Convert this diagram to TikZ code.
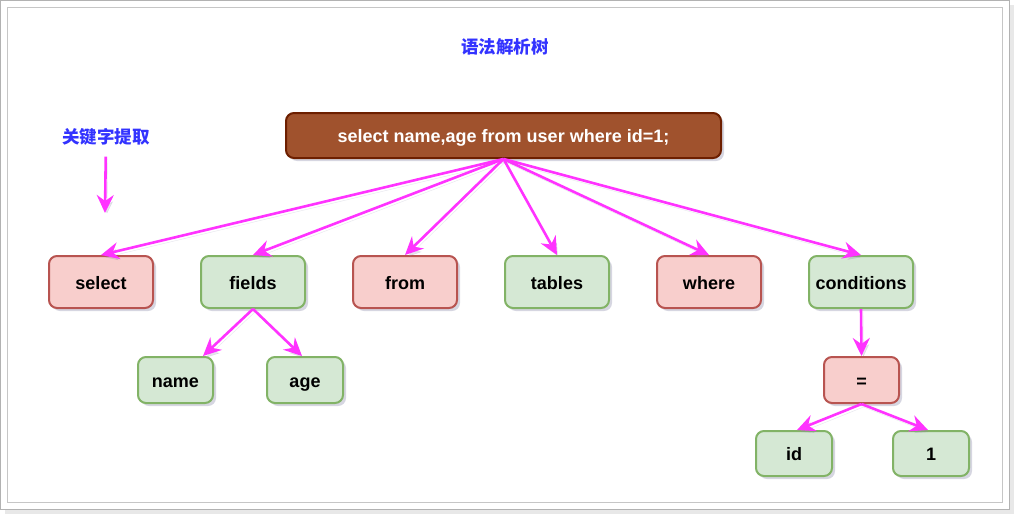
\documentclass[tikz,border=0pt]{standalone}
\usepackage{fontspec}
\setmainfont{Liberation Sans}
\newfontfamily\cjk{Noto Sans CJK SC}
\usetikzlibrary{arrows.meta,shadows,calc}
\definecolor{redfill}{HTML}{F8CECC}
\definecolor{redline}{HTML}{B85450}
\definecolor{greenfill}{HTML}{D5E8D4}
\definecolor{greenline}{HTML}{82B366}
\definecolor{mag}{HTML}{FF33FF}
\definecolor{titleblue}{HTML}{3333FF}
\definecolor{rootfill}{HTML}{A0522D}
\definecolor{rootline}{HTML}{6D1F00}
\definecolor{shadowc}{HTML}{8C8CAA}
\begin{document}
\begin{tikzpicture}[x=1pt,y=-1pt,
  box/.style={rectangle, rounded corners=8pt, line width=2pt, font=\fontsize{18}{21}\selectfont\bfseries,
    text height=14pt, text depth=0pt,
    drop shadow={shadow xshift=3pt, shadow yshift=-3pt, opacity=0.35, fill=shadowc}},
  redbox/.style={box, fill=redfill, draw=redline},
  greenbox/.style={box, fill=greenfill, draw=greenline},
  big/.style={minimum width=104pt, minimum height=52pt},
  small/.style={minimum width=76pt, minimum height=46pt},
  rootbox/.style={box, fill=rootfill, draw=rootline, text=white, minimum width=435pt, minimum height=45pt},
  arrow/.style={draw=mag, line width=2.6pt, -{Stealth[length=18pt,width=17pt,inset=6pt]},
    preaction={draw=shadowc, opacity=0.22, transform canvas={shift={(2pt,-3pt)}}}},
  label/.style={text=titleblue, font=\cjk\fontsize{17.5}{20}\selectfont\bfseries, inner sep=0pt}
]
\useasboundingbox (0,0) rectangle (1014,514);
% frame
\fill[gray!18] (5,5) rectangle (1014,514);
\draw[fill=white, draw=gray!60, line width=1pt] (0.5,0.5) rectangle (1009,509);
\draw[draw=gray!45, line width=1pt] (7,7) rectangle (1002,502);

% labels
\node[label] (title) at (505,47) {语法解析树};
\node[label] (kw) at (106,137) {关键字提取};
\coordinate (kwtip) at (105,213);
\draw[arrow, shorten <=11pt] (kw) -- (kwtip);

% nodes
\node[rootbox] (root) at (503.5,135.5) {select name,age from user where id=1;};
\node[redbox, big] (select) at (101,282) {select};
\node[greenbox, big] (fields) at (253,282) {fields};
\node[redbox, big] (from) at (405,282) {from};
\node[greenbox, big] (tables) at (557,282) {tables};
\node[redbox, big] (where) at (709,282) {where};
\node[greenbox, big] (conditions) at (861,282) {conditions};
\node[greenbox, small, minimum width=75pt] (name) at (175.5,380) {name};
\node[greenbox, small] (age) at (305,380) {age};
\node[redbox, small, minimum width=75pt] (eq) at (861.5,380) {=};
\node[greenbox, small, minimum height=45pt] (id) at (794,453.5) {id};
\node[greenbox, small, minimum height=45pt] (one) at (931,453.5) {1};

% edges
\foreach \t in {select,fields,from,tables,where,conditions}
  \draw[arrow] (root.south) -- (\t.north);
\draw[arrow] (fields.south) -- ($(name.north east)+(-11,0)$);
\draw[arrow] (fields.south) -- ($(age.north)+(-3,0)$);
\draw[arrow] (conditions.south) -- (eq.north);
\draw[arrow] (eq.south) -- ($(id.north)+(3,0)$);
\draw[arrow] (eq.south) -- ($(one.north)+(-3,0)$);
\end{tikzpicture}
\end{document}
